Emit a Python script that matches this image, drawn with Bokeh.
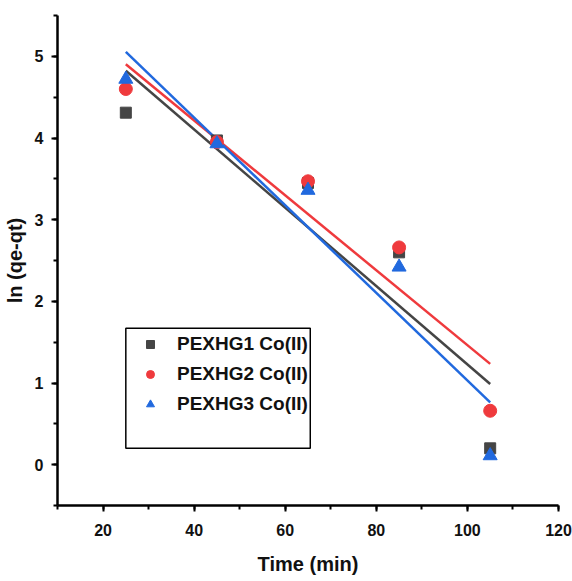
import numpy as np
from bokeh.plotting import figure
from bokeh.models import Range1d, Legend, LegendItem, BoxAnnotation, FixedTicker
from bokeh.embed import file_html
from bokeh.resources import INLINE

time_min = [25, 45, 65, 85, 105]
pexhg1 = [4.31, 3.97, 3.45, 2.60, 0.20]
pexhg2 = [4.60, 3.95, 3.47, 2.66, 0.66]
pexhg3 = [4.72, 3.93, 3.36, 2.42, 0.11]
names = ["PEXHG1 Co(II)", "PEXHG2 Co(II)", "PEXHG3 Co(II)"]
colors = ["#454545", "#ef3a3d", "#2169de"]
x_ticks = [20, 40, 60, 80, 100, 120]
y_ticks = [0, 1, 2, 3, 4, 5]

FONT = "Liberation Sans"

p = figure(width=572, height=581, output_backend="svg", toolbar_location=None,
           x_range=Range1d(10, 120), y_range=Range1d(-0.5, 5.5),
           min_border_left=57, min_border_right=14, min_border_top=15, min_border_bottom=76)
p.outline_line_color = None
p.xgrid.visible = False
p.ygrid.visible = False
p.background_fill_color = "white"
p.border_fill_color = "white"

x = np.array(time_min, dtype=float)
renderers = []
for ys, c in zip([pexhg1, pexhg2, pexhg3], colors):
    ys = np.array(ys)
    k, b = np.polyfit(x, ys, 1)
    xl = np.array([x.min(), x.max()])
    p.line(xl, k * xl + b, line_color=c, line_width=2.5)
for ys, c, marker, size in zip([pexhg1, pexhg2, pexhg3], colors, ["square", "circle", "triangle"], [11, 13, 14]):
    r = p.scatter(time_min, ys, marker=marker, size=size, fill_color=c, line_color=c)
    renderers.append(r)

for ax in (p.xaxis[0], p.yaxis[0]):
    ax.axis_line_width = 2.5
    ax.axis_line_color = "black"
    ax.major_tick_line_color = "black"
    ax.major_tick_line_width = 2
    ax.major_tick_out = 6
    ax.major_tick_in = 0
    ax.minor_tick_line_color = "black"
    ax.minor_tick_line_width = 2
    ax.minor_tick_out = 4
    ax.minor_tick_in = 0
    ax.major_label_text_font = FONT
    ax.major_label_text_font_style = "bold"
    ax.major_label_text_font_size = "16px"
    ax.major_label_text_color = "#111111"
    ax.axis_label_text_font = FONT
    ax.axis_label_text_font_style = "bold"
    ax.axis_label_text_font_size = "20px"
    ax.axis_label_text_color = "#111111"

p.xaxis.ticker = FixedTicker(ticks=x_ticks, minor_ticks=list(range(10, 121, 10)))
p.yaxis.ticker = FixedTicker(ticks=y_ticks, minor_ticks=[v / 2 for v in range(-1, 12)])
p.xaxis.axis_label = "Time (min)"
p.yaxis.axis_label = "ln (qe-qt)"
p.xaxis.major_label_standoff = 12
p.yaxis.major_label_standoff = 8
p.xaxis.axis_label_standoff = 14
p.yaxis.axis_label_standoff = 6

legend = Legend(items=[LegendItem(label=n, renderers=[r]) for n, r in zip(names, renderers)],
                location=(83, 87), padding=0, margin=0, spacing=1,
                glyph_width=20, glyph_height=20, label_height=29, label_standoff=17,
                label_text_font=FONT, label_text_font_style="bold", label_text_font_size="19px",
                label_text_color="#111111", border_line_alpha=0, background_fill_alpha=0)
p.add_layout(legend, "center")

box = BoxAnnotation(left=25, right=65.5, bottom=0.2, top=1.67,
                    fill_alpha=0, line_color="black", line_width=1.5, line_alpha=1)
p.add_layout(box)

open("out.html", "w").write(file_html(p, INLINE))
